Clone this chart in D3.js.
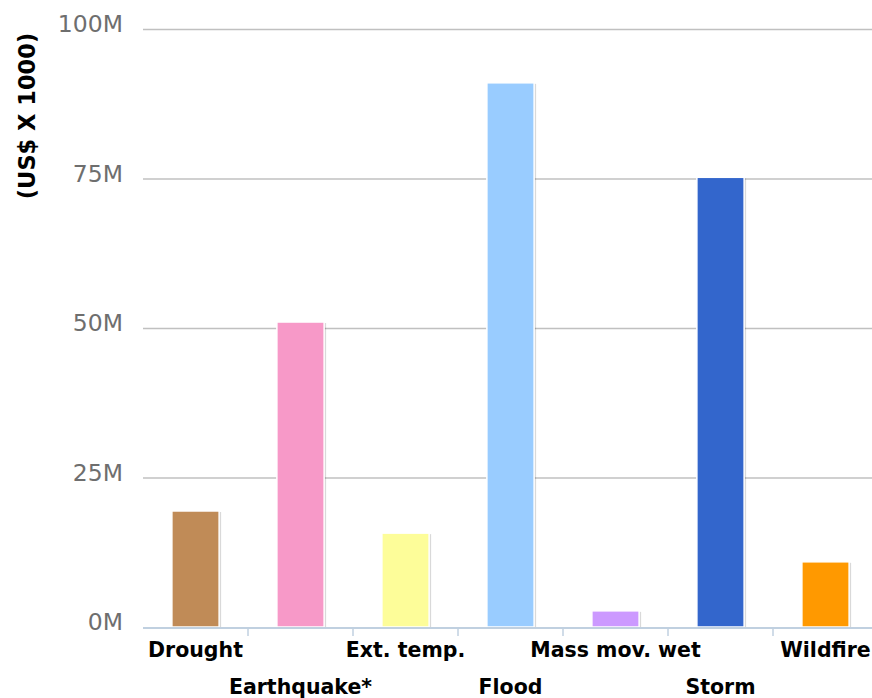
<!DOCTYPE html>
<html>
<head>
<meta charset="utf-8">
<script src="https://cdn.jsdelivr.net/npm/d3@7"></script>
<style>
  body { margin: 0; background: #fff; }
  svg { display: block; }
</style>
</head>
<body>
<div class="container"></div>
<script>
var categories = ["Drought", "Earthquake*", "Ext. temp.", "Flood", "Mass mov. wet", "Storm", "Wildfire"];
var values = [19.4, 51, 15.7, 91, 2.7, 75.2, 10.9];
var colors = ["#c08b57", "#f799c8", "#fdfd99", "#99ccff", "#cc99ff", "#3366cc", "#ff9900"];
var yTicks = [0, 25, 50, 75, 100];

const WIDTH = 872;
const HEIGHT = 698;
const LEFT = 143;
const RIGHT = 878;
const TOP = 29;
const BOTTOM = 627;

var translate = function(x, y){
  return "translate(" + x + "," + y + ")";
};

var xScale = d3.scaleBand()
  .domain(categories)
  .range([LEFT, RIGHT])
  .paddingInner(0.55)
  .paddingOuter(0.275);

var xBand = d3.scaleBand()
  .domain(categories)
  .range([LEFT, RIGHT]);

var yScale = d3.scaleLinear()
  .domain([0, 100])
  .range([BOTTOM, TOP]);

var svg = d3.select('.container').append('svg')
  .attr('width', WIDTH)
  .attr('height', HEIGHT);

// grid lines
svg.append('g')
  .selectAll('line')
  .data(yTicks.filter(function(d){ return d > 0; }))
  .enter().append('line')
  .attr('x1', LEFT).attr('x2', WIDTH)
  .attr('y1', function(d){ return yScale(d) + 0.5; })
  .attr('y2', function(d){ return yScale(d) + 0.5; })
  .attr('stroke', '#c0c0c0')
  .attr('stroke-width', 1.5);

// y labels
svg.append('g')
  .selectAll('text')
  .data(yTicks)
  .enter().append('text')
  .attr('x', 123)
  .attr('y', function(d){ return yScale(d) + 3; })
  .attr('text-anchor', 'end')
  .attr('font-family', 'DejaVu Sans, sans-serif')
  .attr('font-size', 23.5)
  .attr('fill', '#6e6e6e')
  .text(function(d){ return d + 'M'; });

// y title
svg.append('text')
  .attr('transform', translate(35, 116) + ' rotate(-90)')
  .attr('text-anchor', 'middle')
  .attr('font-family', 'DejaVu Sans, sans-serif')
  .attr('font-weight', 'bold')
  .attr('font-size', 22.5)
  .attr('fill', '#000')
  .text('(US$ X 1000)');

// bar shadows
svg.append('g')
  .selectAll('rect')
  .data(values)
  .enter().append('rect')
  .attr('x', function(d, i){ return xScale(categories[i]) + 2; })
  .attr('y', function(d){ return yScale(d) + 1; })
  .attr('width', xScale.bandwidth())
  .attr('height', function(d){ return BOTTOM - yScale(d) - 1; })
  .attr('fill', '#000')
  .attr('opacity', 0.15);

// bars
svg.append('g')
  .selectAll('rect')
  .data(values)
  .enter().append('rect')
  .attr('x', function(d, i){ return xScale(categories[i]); })
  .attr('y', function(d){ return yScale(d); })
  .attr('width', xScale.bandwidth())
  .attr('height', function(d){ return BOTTOM - yScale(d); })
  .attr('fill', function(d, i){ return colors[i]; })
  .attr('stroke', '#fff')
  .attr('stroke-width', 1.5);

// x axis line
svg.append('line')
  .attr('x1', LEFT).attr('x2', WIDTH)
  .attr('y1', BOTTOM + 1).attr('y2', BOTTOM + 1)
  .attr('stroke', '#c0d0e0')
  .attr('stroke-width', 2);

// x ticks between categories
svg.append('g')
  .selectAll('line')
  .data(categories.slice(1))
  .enter().append('line')
  .attr('x1', function(d){ return xBand(d); })
  .attr('x2', function(d){ return xBand(d); })
  .attr('y1', BOTTOM + 1).attr('y2', BOTTOM + 9)
  .attr('stroke', '#c0d0e0')
  .attr('stroke-width', 1.5);

// x labels, staggered
svg.append('g')
  .selectAll('text')
  .data(categories)
  .enter().append('text')
  .attr('x', function(d){ return xBand(d) + xBand.bandwidth() / 2; })
  .attr('y', function(d, i){ return i % 2 === 0 ? 657 : 694; })
  .attr('text-anchor', 'middle')
  .attr('font-family', 'DejaVu Sans, sans-serif')
  .attr('font-weight', 'bold')
  .attr('font-size', 20.5)
  .attr('fill', '#000')
  .text(function(d){ return d; });
</script>
</body>
</html>
